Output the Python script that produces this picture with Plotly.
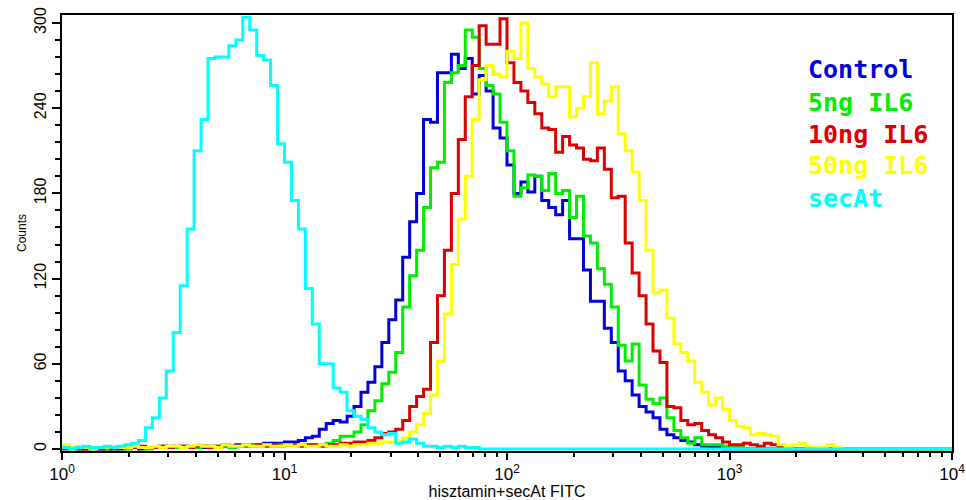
import numpy as np
import plotly.graph_objects as go

# ---- data: flow-cytometry histograms, 32 channels per decade, 4 decades ----
CHANNELS_PER_DECADE = 32
TOTAL_CHANNELS = 128

names = ["Control", "5ng IL6", "10ng IL6", "50ng IL6", "secAt"]
colors = ["#0000DD", "#00EE00", "#DD0000", "#FFFF00", "#00FFFF"]

control = [2,1,1,0,1,0,0,1,0,1, 1,0,1,1,2,1,1,2,1,2, 1,2,1,2,2,3,2,3,3,4,
           4,4,5,5,6,8,9,14,18,20, 19,23,30,40,47,58,75,91,105,135,
           160,180,232,230,265,265,278,268,275,250, 263,252,226,219,200,180,188,181,192,175,
           170,165,175,148,148,126,104,104,85,75, 55,48,38,30,26,22,14,10,8,6,
           5,3,2,1,1]

ng5 = [1,0,0,1,0,1,0,0,1,0, 1,1,0,1,1,2,1,1,2,1, 2,1,2,2,1,2,2,3,2,3,
       2,3,3,3,3,3,3,3,4,6, 9,9,12,17,27,34,46,54,68,100,
       122,140,170,198,202,258,265,270,295,290, 268,256,250,230,210,178,184,193,192,182,
       194,180,182,163,178,150,145,127,116,100, 73,62,74,45,35,32,36,22,13,8,
       4,8,3,3,3,2,2,1]

ng10 = [0,1,0,0,1,0,1,0,1,1, 1,2,1,1,2,1,2,2,1,2, 2,1,2,3,2,2,3,2,3,2,
        3,2,3,3,2,3,3,2,3,3, 4,4,5,5,6,8,11,12,14,20,
        30,37,42,75,108,140,180,218,248,270, 298,285,285,303,272,258,252,244,236,226,
        225,209,220,214,212,204,203,212,197,177, 178,145,124,108,88,69,61,30,29,20,
        17,18,13,10,8,5,3,3,4,3, 2,4,3,2,1]

ng50 = [3,1,2,1,0,1,1,2,1,1, 2,1,1,2,1,2,2,1,2,3, 2,2,1,3,2,2,3,2,2,3,
        2,2,3,2,3,2,2,3,2,2, 3,2,3,3,4,4,5,5,6,8,
        12,17,25,38,62,95,130,162,192,232, 260,270,264,262,280,275,300,268,262,257,
        248,255,255,234,240,248,272,236,245,255, 222,210,195,175,140,110,112,92,74,68,
        62,47,40,31,36,28,20,16,15,10, 11,10,9,3,2,3,4,2,1,1,
        3,1]

secat = [1,0,1,2,1,1,2,1,2,3, 4,6,15,22,36,55,82,115,155,210,
         232,275,276,276,284,288,304,295,277,274, 256,215,202,175,155,113,88,60,60,43,
         40,27,23,21,15,12,10,11,4,5, 7,4,2,2,1,2,1,2,1,1]

series = [control, ng5, ng10, ng50, secat]

x_tickvals = [1, 10, 100, 1000, 10000]
x_ticktext = ["10<sup>0</sup>", "10<sup>1</sup>", "10<sup>2</sup>", "10<sup>3</sup>", "10<sup>4</sup>"]
x_minor = [m * d for d in (1, 10, 100, 1000) for m in range(2, 10)]
y_tickvals = [0, 60, 120, 180, 240, 300]

x_title = "hisztamin+secAt FITC"
y_title = "Counts"

# channel edges on the FITC intensity scale
edges = 10 ** (np.arange(TOTAL_CHANNELS + 1) / CHANNELS_PER_DECADE)

fig = go.Figure()
for name, col, vals in zip(names, colors, series):
    v = list(vals) + [0] * (TOTAL_CHANNELS - len(vals))
    fig.add_trace(go.Scatter(
        x=edges, y=v + [v[-1]], mode="lines", line_shape="hv",
        line=dict(color=col, width=3), name=name, showlegend=False,
        hoverinfo="skip"))

# legend as coloured text
legend_y = [0.876, 0.800, 0.727, 0.654, 0.578]
for name, col, yy in zip(names, colors, legend_y):
    fig.add_annotation(text="<b>" + name + "</b>", xref="paper", yref="paper",
                       x=0.836, y=yy, xanchor="left", yanchor="middle",
                       showarrow=False,
                       font=dict(family="DejaVu Sans Mono", size=25, color=col))

fig.update_layout(
    width=966, height=500,
    margin=dict(l=62, r=14, t=15, b=49),
    paper_bgcolor="white", plot_bgcolor="white",
    font=dict(family="Liberation Sans, Arial, sans-serif", color="black"),
)
fig.update_xaxes(
    type="log", range=[0, 4], automargin=False,
    tickmode="array", tickvals=x_tickvals, ticktext=x_ticktext,
    tickfont=dict(size=17),
    ticks="outside", ticklen=7, tickwidth=2, tickcolor="black",
    minor=dict(tickmode="array", tickvals=x_minor, ticks="outside",
               ticklen=4, tickwidth=1.5, tickcolor="black", showgrid=False),
    showline=True, linewidth=2, linecolor="black", mirror=True,
    showgrid=False, zeroline=False,
    title=dict(text=x_title, font=dict(size=16), standoff=0),
)
fig.update_yaxes(
    range=[-1.4, 305.6], automargin=False,
    tickmode="array", tickvals=y_tickvals, tickangle=-90,
    tickfont=dict(size=16),
    ticks="outside", ticklen=8, tickwidth=2, tickcolor="black",
    minor=dict(dtick=12, tick0=0, ticks="outside", ticklen=5, tickwidth=1.5,
               tickcolor="black", showgrid=False),
    showline=True, linewidth=2, linecolor="black", mirror=True,
    showgrid=False, zeroline=False,
    title=dict(text=y_title, font=dict(size=12), standoff=2),
)

fig.write_html("out.html")
